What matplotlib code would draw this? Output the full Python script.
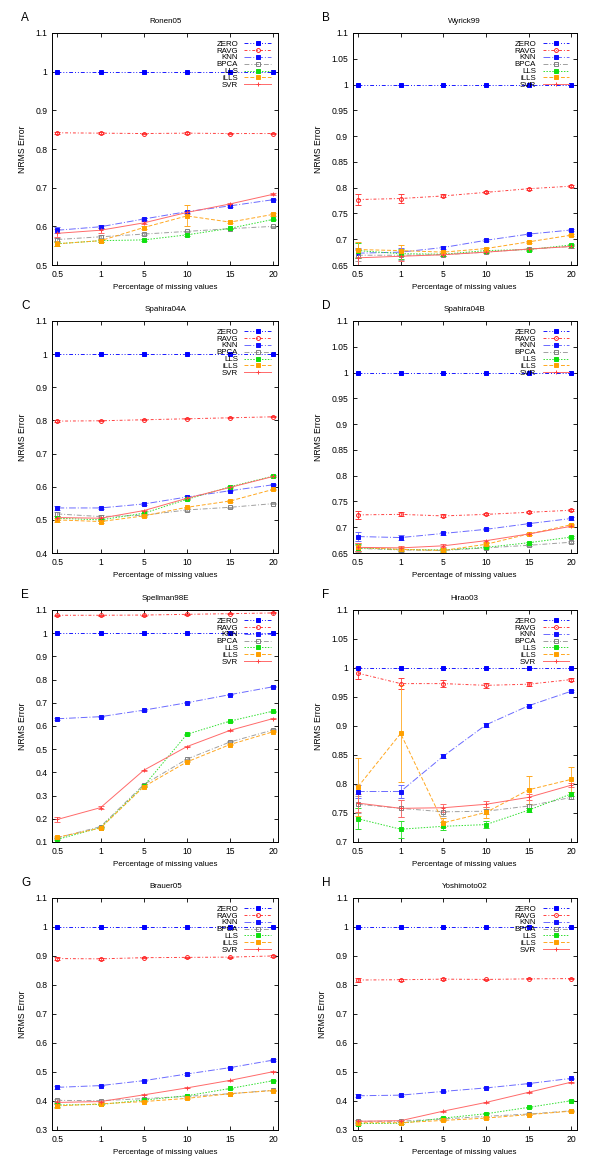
import numpy
from matplotlib import pyplot
from matplotlib.lines import Line2D

pyplot.rcParams['font.family'] = ['Liberation Sans', 'DejaVu Sans']

xticklabels = ["0.5", "1", "5", "10", "15", "20"]
letters = ["A", "B", "C", "D", "E", "F", "G", "H"]
titles = ["Ronen05", "Wyrick99", "Spahira04A", "Spahira04B",
          "Spellman98E", "Hirao03", "Brauer05", "Yoshimoto02"]
ymins = [0.5, 0.65, 0.4, 0.65, 0.1, 0.7, 0.3, 0.3]
ysteps = [0.1, 0.05, 0.1, 0.05, 0.1, 0.05, 0.1, 0.1]

# one row per panel (A..H), one column per missing rate
zero = [[1.0] * 6 for _ in range(8)]
ravg = [[0.842, 0.841, 0.840, 0.841, 0.840, 0.840],
        [0.777, 0.779, 0.784, 0.791, 0.798, 0.803],
        [0.798, 0.799, 0.802, 0.805, 0.808, 0.811],
        [0.724, 0.725, 0.722, 0.725, 0.729, 0.733],
        [1.077, 1.077, 1.078, 1.081, 1.084, 1.087],
        [0.991, 0.973, 0.973, 0.970, 0.972, 0.980],
        [0.891, 0.890, 0.894, 0.895, 0.896, 0.900],
        [0.817, 0.818, 0.820, 0.819, 0.821, 0.822]]
knn = [[0.590, 0.599, 0.619, 0.638, 0.653, 0.669],
       [0.673, 0.675, 0.684, 0.698, 0.710, 0.718],
       [0.536, 0.536, 0.548, 0.569, 0.588, 0.606],
       [0.682, 0.680, 0.688, 0.696, 0.707, 0.717],
       [0.631, 0.640, 0.668, 0.700, 0.735, 0.769],
       [0.787, 0.787, 0.848, 0.902, 0.935, 0.960],
       [0.447, 0.453, 0.470, 0.493, 0.515, 0.541],
       [0.418, 0.420, 0.433, 0.445, 0.460, 0.478]]
bpca = [[0.566, 0.573, 0.580, 0.587, 0.594, 0.600],
        [0.669, 0.669, 0.670, 0.675, 0.681, 0.686],
        [0.518, 0.510, 0.514, 0.530, 0.538, 0.549],
        [0.659, 0.656, 0.655, 0.660, 0.665, 0.671],
        [0.118, 0.166, 0.347, 0.457, 0.531, 0.583],
        [0.765, 0.758, 0.752, 0.753, 0.762, 0.777],
        [0.402, 0.401, 0.408, 0.416, 0.425, 0.437],
        [0.330, 0.330, 0.338, 0.347, 0.355, 0.366]]
lls = [[0.555, 0.563, 0.565, 0.578, 0.595, 0.618],
       [0.678, 0.672, 0.671, 0.678, 0.680, 0.689],
       [0.505, 0.500, 0.520, 0.562, 0.600, 0.632],
       [0.660, 0.657, 0.656, 0.661, 0.670, 0.681],
       [0.111, 0.162, 0.341, 0.564, 0.621, 0.664],
       [0.740, 0.722, 0.727, 0.730, 0.755, 0.783],
       [0.386, 0.388, 0.403, 0.418, 0.443, 0.470],
       [0.322, 0.323, 0.341, 0.356, 0.378, 0.401]]
ills = [[0.555, 0.563, 0.597, 0.627, 0.611, 0.631],
        [0.680, 0.678, 0.675, 0.682, 0.695, 0.708],
        [0.500, 0.495, 0.512, 0.538, 0.557, 0.592],
        [0.661, 0.657, 0.655, 0.667, 0.687, 0.705],
        [0.120, 0.160, 0.338, 0.445, 0.520, 0.575],
        [0.795, 0.887, 0.733, 0.751, 0.790, 0.808],
        [0.383, 0.390, 0.398, 0.409, 0.425, 0.436],
        [0.325, 0.325, 0.333, 0.341, 0.353, 0.365]]
svr = [[0.582, 0.590, 0.609, 0.636, 0.658, 0.683],
       [0.664, 0.667, 0.670, 0.675, 0.681, 0.686],
       [0.507, 0.505, 0.528, 0.565, 0.598, 0.631],
       [0.661, 0.660, 0.664, 0.674, 0.687, 0.702],
       [0.197, 0.248, 0.409, 0.511, 0.581, 0.632],
       [0.767, 0.758, 0.759, 0.765, 0.777, 0.798],
       [0.395, 0.398, 0.421, 0.445, 0.471, 0.501],
       [0.330, 0.332, 0.365, 0.395, 0.430, 0.465]]

# standard deviations (error bars)
ravg_err = [[0.002, 0.002, 0.002, 0.002, 0.002, 0.002],
            [0.011, 0.009, 0.003, 0.002, 0.002, 0.002],
            [0.003, 0.002, 0.002, 0.002, 0.002, 0.002],
            [0.008, 0.004, 0.003, 0.002, 0.002, 0.002],
            [0.003, 0.002, 0.002, 0.002, 0.002, 0.002],
            [0.010, 0.010, 0.006, 0.004, 0.003, 0.003],
            [0.004, 0.003, 0.002, 0.002, 0.002, 0.002],
            [0.008, 0.004, 0.003, 0.002, 0.002, 0.002]]
knn_err = [[0.008, 0.004, 0.003, 0.003, 0.003, 0.002],
           [0.010, 0.008, 0.003, 0.002, 0.002, 0.002],
           [0.005, 0.003, 0.002, 0.002, 0.002, 0.002],
           [0.009, 0.005, 0.003, 0.002, 0.002, 0.002],
           [0.004, 0.003, 0.002, 0.002, 0.002, 0.002],
           [0.012, 0.012, 0.004, 0.003, 0.002, 0.002],
           [0.006, 0.003, 0.002, 0.002, 0.002, 0.002],
           [0.006, 0.003, 0.002, 0.002, 0.002, 0.002]]
bpca_err = [[0.005, 0.004, 0.003, 0.002, 0.002, 0.002],
            [0.012, 0.010, 0.003, 0.002, 0.002, 0.002],
            [0.006, 0.004, 0.002, 0.002, 0.002, 0.002],
            [0.007, 0.004, 0.003, 0.002, 0.002, 0.002],
            [0.004, 0.003, 0.002, 0.002, 0.002, 0.002],
            [0.015, 0.015, 0.008, 0.004, 0.003, 0.003],
            [0.006, 0.003, 0.002, 0.002, 0.002, 0.002],
            [0.005, 0.003, 0.002, 0.002, 0.002, 0.002]]
lls_err = [[0.005, 0.004, 0.003, 0.002, 0.002, 0.002],
           [0.015, 0.010, 0.003, 0.002, 0.002, 0.002],
           [0.006, 0.004, 0.002, 0.002, 0.002, 0.002],
           [0.007, 0.004, 0.003, 0.002, 0.002, 0.002],
           [0.004, 0.003, 0.002, 0.002, 0.002, 0.002],
           [0.018, 0.015, 0.007, 0.006, 0.003, 0.003],
           [0.006, 0.003, 0.002, 0.002, 0.002, 0.002],
           [0.005, 0.003, 0.002, 0.002, 0.002, 0.002]]
ills_err = [[0.006, 0.004, 0.004, 0.027, 0.003, 0.003],
            [0.015, 0.010, 0.003, 0.002, 0.002, 0.002],
            [0.006, 0.004, 0.002, 0.002, 0.002, 0.002],
            [0.008, 0.004, 0.003, 0.002, 0.002, 0.002],
            [0.005, 0.003, 0.002, 0.002, 0.002, 0.002],
            [0.050, 0.083, 0.008, 0.010, 0.024, 0.022],
            [0.006, 0.003, 0.002, 0.002, 0.002, 0.002],
            [0.005, 0.003, 0.002, 0.002, 0.002, 0.002]]
svr_err = [[0.010, 0.007, 0.004, 0.003, 0.003, 0.002],
           [0.015, 0.010, 0.003, 0.002, 0.002, 0.002],
           [0.006, 0.004, 0.002, 0.002, 0.002, 0.002],
           [0.008, 0.004, 0.003, 0.002, 0.002, 0.002],
           [0.010, 0.005, 0.003, 0.002, 0.002, 0.002],
           [0.015, 0.015, 0.007, 0.005, 0.005, 0.004],
           [0.006, 0.003, 0.002, 0.002, 0.002, 0.002],
           [0.005, 0.003, 0.002, 0.002, 0.002, 0.002]]
zero_err = [[0.0] * 6 for _ in range(8)]

# name, values, errors, line colour, marker colour, dash, marker, filled
methods = [
    ("ZERO", zero, zero_err, "#1a1aff", "#0000ff", (0, (4, 2, 1, 2, 1, 2)), "s", True),
    ("RAVG", ravg, ravg_err, "#ff4040", "#ff2020", (0, (3, 2, 1, 2)), "o", False),
    ("KNN", knn, knn_err, "#6a6aff", "#1010ff", (0, (7, 2, 1, 2)), "s", True),
    ("BPCA", bpca, bpca_err, "#a0a0a0", "#808080", (0, (5, 2, 1, 2)), "s", False),
    ("LLS", lls, lls_err, "#30e030", "#10e010", (0, (1.5, 1.5)), "s", True),
    ("iLLS", ills, ills_err, "#ffa820", "#ffa000", (0, (4, 2)), "s", True),
    ("SVR", svr, svr_err, "#ff6a6a", "#ff4040", "-", "+", True),
]

fig = pyplot.figure(figsize=(6, 11.66), dpi=100)
lefts = [0.087, 0.588]
widths = [0.377, 0.373]
bottoms = [0.7727, 0.5257, 0.2779, 0.0309]
x = numpy.arange(6)

for i in range(8):
    row, col = divmod(i, 2)
    axes = fig.add_axes([lefts[col], bottoms[row], widths[col], 0.199])
    handles = []
    for name, vals, errs, color, mcolor, ls, marker, filled in methods:
        axes.errorbar(x, vals[i], yerr=errs[i], color=color, ls=ls, lw=0.7,
                      marker=marker, ms=2.8, mew=0.7, mec=mcolor,
                      mfc=mcolor if filled else "none",
                      ecolor=color, elinewidth=0.6, capsize=2, capthick=0.6)
        handles.append(Line2D([], [], color=color, ls=ls, lw=0.7,
                              marker=marker, ms=2.8, mew=0.7, mec=mcolor,
                              mfc=mcolor if filled else "none", label=name))
    axes.set_xlim(-0.12, 5.12)
    axes.set_ylim(ymins[i], 1.1)
    axes.set_xticks(x)
    axes.set_xticklabels(xticklabels)
    yt = numpy.arange(ymins[i], 1.1 + 1e-6, ysteps[i])
    axes.set_yticks(yt)
    axes.set_yticklabels(["%g" % round(v, 2) for v in yt])
    axes.tick_params(direction="in", top=True, right=True, labelsize=6.2,
                     length=3, width=0.6, pad=3.5)
    for s in axes.spines.values():
        s.set_linewidth(0.7)
    axes.set_title(titles[i], fontsize=5.8, pad=7)
    axes.set_xlabel("Percentage of missing values", fontsize=5.8, labelpad=4)
    axes.set_ylabel("NRMS Error", fontsize=6.2, labelpad=6)
    fig.text(lefts[col] - 0.052, bottoms[row] + 0.199 + 0.013, letters[i],
             fontsize=8.5, ha="left", va="center")
    axes.legend(handles=handles, loc="upper right", frameon=False,
                fontsize=5.7, markerfirst=False, labelspacing=-0.08,
                handlelength=3.4, handletextpad=0.8, borderaxespad=0.4,
                borderpad=0.5)

fig.savefig("out.png", dpi=100)
